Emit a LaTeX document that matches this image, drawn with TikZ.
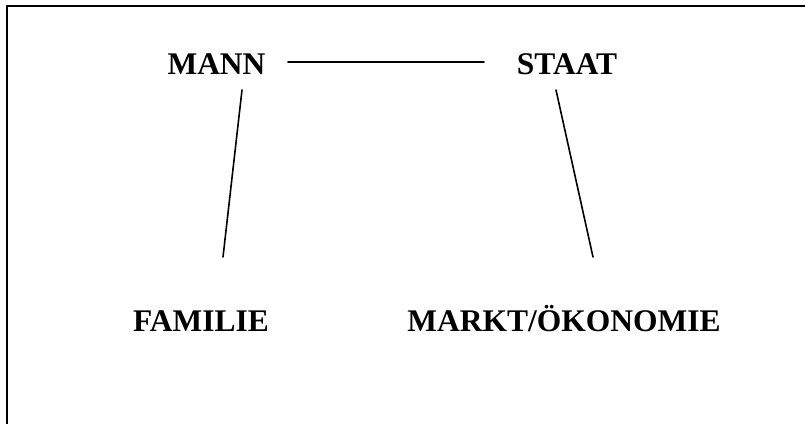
\documentclass[tikz,border=0pt]{standalone}
\usepackage{fontspec}
\setmainfont{Liberation Serif}
\begin{document}
\begin{tikzpicture}[x=1pt,y=-1pt,
  lbl/.style={font=\fontsize{31.5}{36}\selectfont\bfseries, anchor=base, inner sep=0pt},
  conn/.style={line width=1.6pt, line cap=round},
  frame/.style={line width=2.4pt}]
\useasboundingbox (0,0) rectangle (805,423);
\draw[frame] (7,424) -- (7,6) -- (806,6);
\node[lbl] (mann) at (216.5,74) {MANN};
\node[lbl] (staat) at (567,74) {STAAT};
\node[lbl] (familie) at (201,331) {FAMILIE};
\node[lbl] (markt) at (564,331) {MARKT/ÖKONOMIE};
\coordinate (h1) at (288,62);
\coordinate (h2) at (484,62);
\coordinate (m1) at (242,90);
\coordinate (f1) at (223,257);
\coordinate (s1) at (556,90);
\coordinate (k1) at (593,257);
\draw[conn] (h1) -- (h2);
\draw[conn] (m1) -- (f1);
\draw[conn] (s1) -- (k1);
\end{tikzpicture}
\end{document}
